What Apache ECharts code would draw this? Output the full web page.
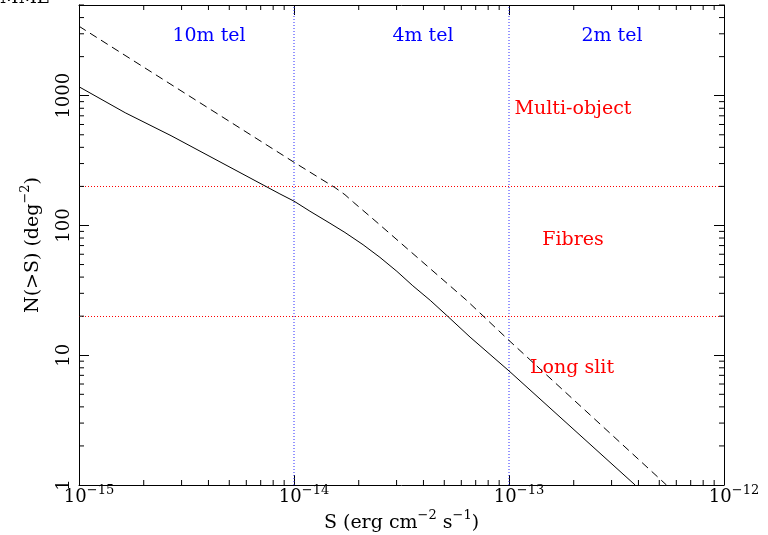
<!DOCTYPE html>
<html><head><meta charset="utf-8">
<script src="https://cdn.jsdelivr.net/npm/echarts@6/dist/echarts.min.js"></script>
<style>html,body{margin:0;padding:0;background:#fff}#c{width:768px;height:535px}</style>
</head><body><div id="c"></div>
<script>
// ---- data ----
const xMin = 1e-15, xMax = 1e-12;
const yMin = 1, yMax = 5000;
const xTickValues = [1e-15, 1e-14, 1e-13, 1e-12];
const yTickValues = [1, 10, 100, 1000];
const solidS = [1e-15, 1.64e-15, 2.68e-15, 8.6e-15, 1.0e-14, 1.186e-14, 1.47e-14, 1.726e-14, 2.095e-14, 2.51e-14, 3.01e-14, 3.57e-14, 4.3e-14, 5.23e-14, 6.59e-14, 1.0e-13, 3.86e-13];
const solidN = [1172, 739, 492, 175, 154, 128.8, 104, 88.3, 71.1, 56.8, 44.3, 34.3, 26.5, 19.7, 13.8, 7.57, 1];
const dashS = [1e-15, 1.0e-14, 1.55e-14, 1.726e-14, 1.89e-14, 2.38e-14, 6.35e-14, 1.0e-13, 5.4e-13];
const dashN = [3430, 307, 196, 172.6, 151, 109, 26.5, 13.0, 1];
const telBounds = [1e-14, 1e-13];
const telLabels = ['10m tel', '4m tel', '2m tel'];
const nBounds = [20, 200];
const modeLabels = ['Multi-object', 'Fibres', 'Long slit'];

// ---- helpers ----
const FONT = 'DejaVu Serif';
const minorX = [], minorY = [];
for (let e = -15; e < -12; e++) for (let m = 2; m <= 9; m++) minorX.push(m * Math.pow(10, e));
for (let e = 0; e < 4; e++) for (let m = 2; m <= 9; m++) { const v = m * Math.pow(10, e); if (v <= yMax) minorY.push(v); }

const rich = {
  b: { fontFamily: FONT, fontSize: 18, lineHeight: 18, color: '#000' },
  s: { fontFamily: FONT, fontSize: 13, lineHeight: 13, padding: [0, 0, 13, 0], color: '#000' }
};
const richName = {
  b: { fontFamily: FONT, fontSize: 19, lineHeight: 19, color: '#000' },
  s: { fontFamily: FONT, fontSize: 13, lineHeight: 13, padding: [0, 0, 16, 0], color: '#000' }
};

function lineSeries(xs, ys, color, type) {
  return { type: 'line', data: xs.map((x, i) => [x, ys[i]]), showSymbol: false, symbol: 'none',
    color: color, itemStyle: { color: color },
    lineStyle: { color: color, width: 1, type: type }, silent: true, z: 3, animation: false, smooth: false };
}
const snap = v => Math.round(v - 0.5) + 0.5;

const series = [];
// reference boundaries (dotted)
series.push({
  type: 'custom', silent: true, z: 2,
  data: telBounds.map(v => [v, yMin, 0]).concat(nBounds.map(v => [xMin, v, 1])),
  renderItem(params, api) {
    const kind = api.value(2);
    let shape, color;
    if (kind === 0) {
      const v = api.value(0);
      const a = api.coord([v, yMin]), b = api.coord([v, yMax]);
      shape = { x1: a[0], y1: a[1], x2: a[0], y2: b[1] }; color = '#2b2bff';
    } else {
      const v = api.value(1);
      const a = api.coord([xMin, v]), b = api.coord([xMax, v]);
      const y = snap(a[1]);
      shape = { x1: a[0], y1: y, x2: b[0], y2: y }; color = '#ff0000';
    }
    return { type: 'line', shape, style: { stroke: color, lineWidth: 1, lineDash: [1, 2] } };
  }
});
series.push(lineSeries(solidS, solidN, '#000000', 'solid'));
series.push(lineSeries(dashS, dashN, '#000000', [8, 5]));
series.push({
  type: 'custom', silent: true, z: 5, data: minorX.map(v => [v, yMin]),
  renderItem(params, api) {
    const v = api.value(0);
    const b = api.coord([v, yMin]), t = api.coord([v, yMax]);
    const st = { stroke: '#000', lineWidth: 1 };
    return { type: 'group', children: [
      { type: 'line', shape: { x1: b[0], y1: b[1], x2: b[0], y2: b[1] - 5 }, style: st },
      { type: 'line', shape: { x1: t[0], y1: t[1], x2: t[0], y2: t[1] + 5 }, style: st }
    ] };
  }
});
series.push({
  type: 'custom', silent: true, z: 5, data: minorY.map(v => [xMin, v]),
  renderItem(params, api) {
    const v = api.value(1);
    const l = api.coord([xMin, v]), r = api.coord([xMax, v]);
    const st = { stroke: '#000', lineWidth: 1 };
    return { type: 'group', children: [
      { type: 'line', shape: { x1: l[0], y1: l[1], x2: l[0] + 5, y2: l[1] }, style: st },
      { type: 'line', shape: { x1: r[0], y1: r[1], x2: r[0] - 5, y2: r[1] }, style: st }
    ] };
  }
});

const axisLine = { show: true, onZero: false, lineStyle: { color: '#000', width: 1 } };
const axisTick = { show: true, inside: true, length: 10, lineStyle: { color: '#000', width: 1 } };
const tfont = '19px "DejaVu Serif"';

const option = {
  animation: false,
  backgroundColor: '#fff',
  grid: { left: 79, right: 44, top: 5, bottom: 50, containLabel: false, outerBoundsMode: 'none' },
  xAxis: [
    { type: 'log', logBase: 10, min: xMin, max: xMax, position: 'bottom',
      axisLine, axisTick, splitLine: { show: false },
      axisLabel: { margin: 3, padding: [0, 0, 0, 20], showMinLabel: true, showMaxLabel: true, hideOverlap: false,
        formatter: v => { const e = Math.round(Math.log10(v)); return '{b|10}{s|' + (e < 0 ? '\u2212' : '') + Math.abs(e) + '}'; },
        rich },
      name: '{b|S (erg cm}{s|\u22122}{b| s}{s|\u22121}{b|)}', nameLocation: 'middle', nameGap: 29, nameMoveOverlap: false,
      nameTextStyle: { rich: richName } },
    { type: 'log', logBase: 10, min: xMin, max: xMax, position: 'top',
      axisLine, axisTick, splitLine: { show: false }, axisLabel: { show: false } }
  ],
  yAxis: [
    { type: 'log', logBase: 10, min: yMin, max: yMax, position: 'left',
      axisLine, axisTick, splitLine: { show: false },
      axisLabel: { rotate: 90, margin: 6, fontFamily: FONT, fontSize: 18, color: '#000',
        showMinLabel: true, showMaxLabel: true,
        formatter: v => { const e = Math.log10(v); return Math.abs(e - Math.round(e)) < 1e-6 ? String(Math.round(v)) : ''; } },
      name: '{b|N(>S) (deg}{s|\u22122}{b|)}', nameLocation: 'middle', nameRotate: 90, nameGap: 36, nameMoveOverlap: false,
      nameTextStyle: { rich: richName } },
    { type: 'log', logBase: 10, min: yMin, max: yMax, position: 'right',
      axisLine, axisTick, splitLine: { show: false }, axisLabel: { show: false } }
  ],
  series,
  graphic: [
    { type: 'text', x: 209, y: 36, style: { text: telLabels[0], fill: '#0000ff', font: tfont, align: 'center', verticalAlign: 'middle' } },
    { type: 'text', x: 423, y: 36, style: { text: telLabels[1], fill: '#0000ff', font: tfont, align: 'center', verticalAlign: 'middle' } },
    { type: 'text', x: 612, y: 36, style: { text: telLabels[2], fill: '#0000ff', font: tfont, align: 'center', verticalAlign: 'middle' } },
    { type: 'text', x: 573, y: 109, style: { text: modeLabels[0], fill: '#ff0000', font: tfont, align: 'center', verticalAlign: 'middle' } },
    { type: 'text', x: 573, y: 240, style: { text: modeLabels[1], fill: '#ff0000', font: tfont, align: 'center', verticalAlign: 'middle' } },
    { type: 'text', x: 572, y: 368, style: { text: modeLabels[2], fill: '#ff0000', font: tfont, align: 'center', verticalAlign: 'middle' } },
    { type: 'text', x: 50, y: 7, style: { text: 'AMME', fill: '#000', font: '18px "DejaVu Serif"', align: 'right', verticalAlign: 'bottom' } }
  ]
};
const chart = echarts.init(document.getElementById('c'), null, { renderer: 'canvas' });
chart.setOption(option);
</script></body></html>
